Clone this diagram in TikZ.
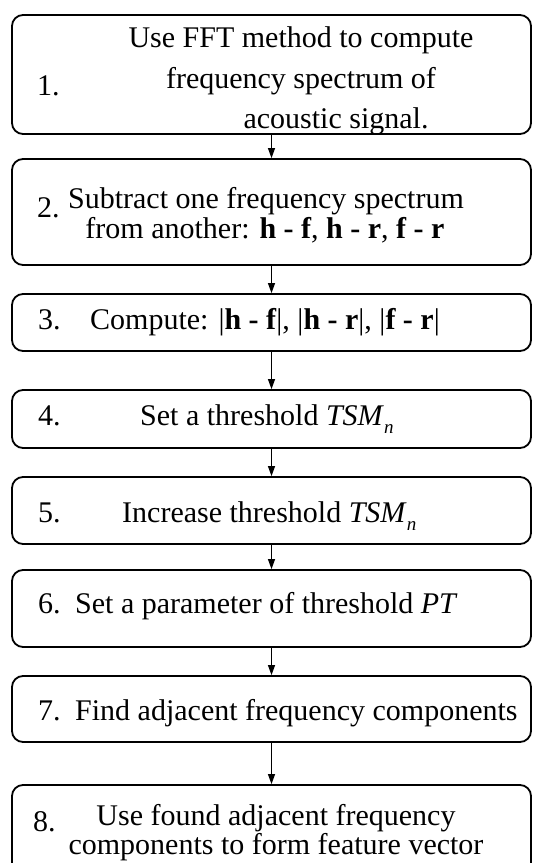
\documentclass[tikz,border=0pt]{standalone}
\usepackage{fontspec}
\setmainfont{Liberation Serif}
\usepackage{tikz}
\usetikzlibrary{arrows.meta, positioning}

\newcommand{\lowsub}[1]{\raisebox{-8pt}{\fontsize{19}{19}\selectfont\textit{#1}}}

\begin{document}
\begin{tikzpicture}[
    x=1pt, y=-1pt,
    stepbox/.style={rectangle, draw, line width=1.8pt, rounded corners=11pt, minimum width=519pt, inner sep=0pt},
    steptext/.style={anchor=base, inner sep=0pt, font=\fontsize{30}{36}\selectfont},
    stepnum/.style={anchor=base west, inner sep=0pt, font=\fontsize{30}{36}\selectfont},
    arrow/.style={-{Triangle[length=10pt, width=7pt]}, line width=1.1pt}
]
\useasboundingbox (0,0) rectangle (533,863);

% Boxes
\node[stepbox, minimum height=119pt] (s1) at (271.5,74.5) {};
\node[stepbox, minimum height=106pt] (s2) at (271.5,212) {};
\node[stepbox, minimum height=57pt] (s3) at (271.5,322.5) {};
\node[stepbox, minimum height=58pt] (s4) at (271.5,419) {};
\node[stepbox, minimum height=67pt] (s5) at (271.5,510.5) {};
\node[stepbox, minimum height=77pt] (s6) at (271.5,608.5) {};
\node[stepbox, minimum height=66pt] (s7) at (271.5,709) {};
\node[stepbox, minimum height=95pt] (s8) at (271.5,832.5) {};

% Step 1
\node[stepnum] (n1) at (37,95) {1.};
\node[steptext] (t1a) at (301,47) {Use FFT method to compute};
\node[steptext] (t1b) at (301,88) {frequency spectrum of};
\node[steptext] (t1c) at (336,128) {acoustic signal.};

% Step 2
\node[stepnum] (n2) at (37,217) {2.};
\node[steptext] (t2a) at (266,208) {Subtract one frequency spectrum};
\node[steptext] (t2b) at (265,238) {from another: \textbf{h - f}, \textbf{h - r}, \textbf{f - r}};

% Step 3
\node[stepnum] (n3) at (38,329) {3.};
\node[stepnum] (t3) at (90,329) {Compute: |\textbf{h - f}|, |\textbf{h - r}|, |\textbf{f - r}|};

% Step 4
\node[stepnum] (n4) at (38,425) {4.};
\node[stepnum] (t4) at (140,425) {Set a threshold \textit{TSM}\lowsub{n}};

% Step 5
\node[stepnum] (n5) at (38,522) {5.};
\node[stepnum] (t5) at (122,522) {Increase threshold \textit{TSM}\lowsub{n}};

% Step 6
\node[stepnum] (n6) at (38,613) {6.};
\node[stepnum] (t6) at (75,613) {Set a parameter of threshold \textit{PT}};

% Step 7
\node[stepnum] (n7) at (38,720) {7.};
\node[stepnum] (t7) at (75,720) {Find adjacent frequency components};

% Step 8
\node[stepnum] (n8) at (33,831) {8.};
\node[steptext] (t8a) at (276,825) {Use found adjacent frequency};
\node[steptext] (t8b) at (276,854) {components to form feature vector};

% Arrows
\foreach \a/\b in {s1/s2, s2/s3, s3/s4, s4/s5, s5/s6, s6/s7, s7/s8}
    \draw[arrow] (\a.south) -- (\b.north);

\end{tikzpicture}
\end{document}
